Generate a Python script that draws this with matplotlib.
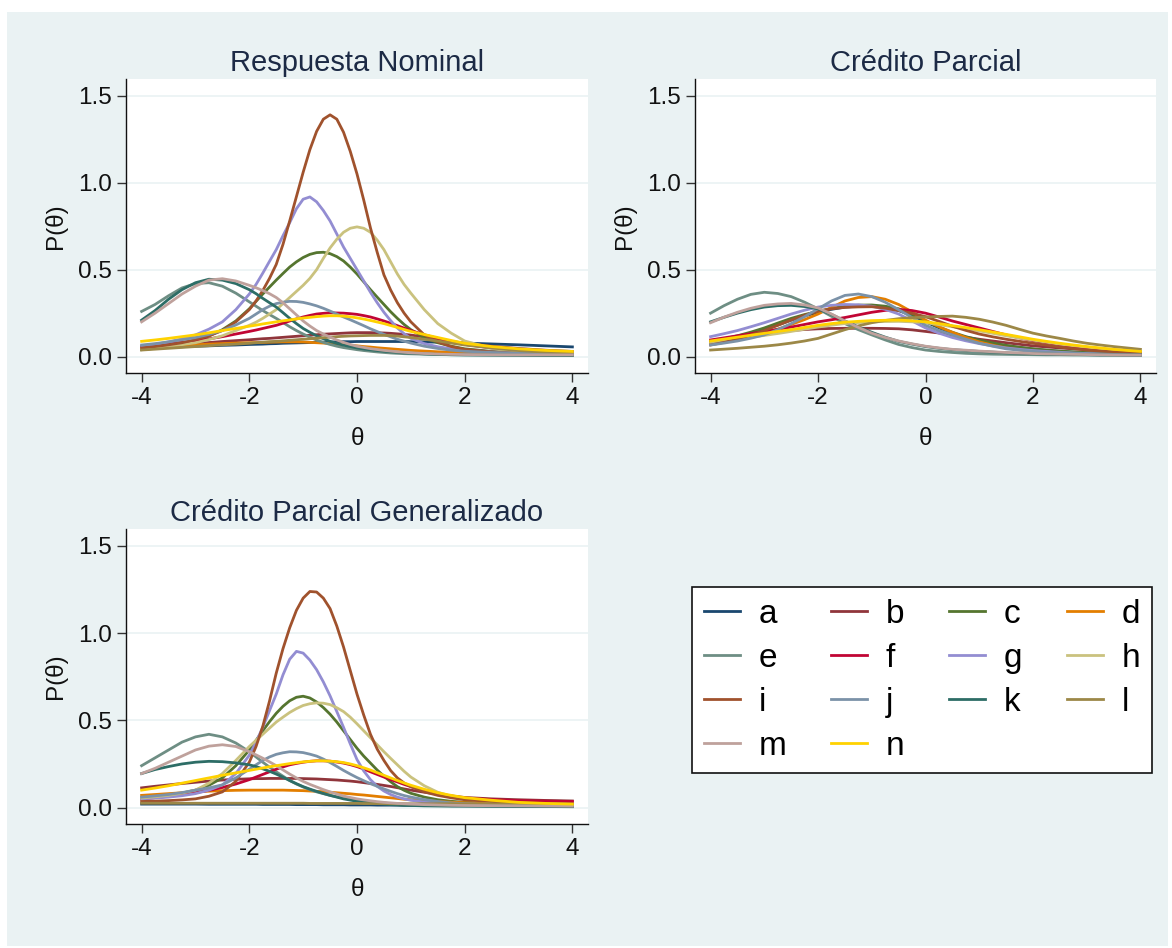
import numpy as np
import matplotlib.pyplot as plt
from matplotlib.patches import Rectangle
from matplotlib.lines import Line2D

plt.rcParams['font.family'] = ['Liberation Sans', 'DejaVu Sans']
plt.rcParams['axes.unicode_minus'] = False

W, H = 1172, 948
fondo = '#eaf2f3'

# valores de theta donde se leyeron las curvas (paneles 1 y 3 mas finos en el centro)
theta_fino = [-4, -3.75, -3.5, -3.25, -3, -2.75, -2.5, -2.25, -2,
              -1.875, -1.75, -1.625, -1.5, -1.375, -1.25, -1.125, -1, -0.875, -0.75, -0.625,
              -0.5, -0.375, -0.25, -0.125, 0,
              0.125, 0.25, 0.375, 0.5, 0.625, 0.75, 0.875, 1,
              1.25, 1.5, 1.75, 2, 2.5, 3, 3.5, 4]
theta_medio = [-4, -3.75, -3.5, -3.25, -3, -2.75, -2.5, -2.25, -2, -1.75, -1.5, -1.25, -1, -0.75, -0.5,
               -0.25, 0, 0.25, 0.5, 0.75, 1, 1.25, 1.5, 1.75, 2, 2.25, 2.5, 2.75, 3, 3.25, 3.5, 3.75, 4]

items = ['a', 'b', 'c', 'd', 'e', 'f', 'g', 'h', 'i', 'j', 'k', 'l', 'm', 'n']
colores = ['#1a476f', '#90353b', '#55752f', '#e37e00', '#6e8e84', '#c10534', '#938dd2',
           '#cac27e', '#a0522d', '#7b92a8', '#2d6d66', '#9c8847', '#bfa19c', '#ffd200']

# Respuesta Nominal (theta_fino)
nominal = {
    'a': [.050, .052, .055, .057, .060, .062, .065, .067, .070,
          .071, .072, .074, .075, .077, .078, .079, .080, .081, .082, .083, .084, .085, .086, .086, .087,
          .087, .087, .087, .087, .087, .087, .087, .086,
          .085, .083, .081, .078, .073, .068, .062, .056],
    'b': [.054, .059, .065, .070, .076, .081, .087, .092, .097,
          .100, .103, .105, .108, .111, .114, .117, .120, .123, .126, .129, .131, .133, .135, .137, .138,
          .138, .138, .137, .136, .134, .131, .128, .124,
          .113, .100, .088, .077, .060, .047, .037, .030],
    'c': [.040, .048, .058, .072, .090, .118, .155, .205, .275,
          .318, .360, .400, .440, .478, .515, .545, .570, .588, .598, .600, .592, .575, .550, .515, .475,
          .430, .385, .342, .300, .258, .220, .185, .155,
          .110, .080, .060, .045, .030, .020, .015, .012],
    'd': [.048, .053, .058, .063, .068, .072, .075, .078, .080,
          .081, .082, .083, .084, .085, .085, .085, .084, .082, .080, .078, .075, .072, .068, .065, .062,
          .058, .055, .051, .048, .045, .042, .039, .036,
          .032, .028, .025, .022, .019, .016, .014, .012],
    'e': [.260, .300, .350, .395, .420, .425, .405, .365, .315,
          .290, .265, .242, .220, .196, .172, .150, .130, .112, .095, .082, .070, .060, .052, .046, .040,
          .035, .031, .027, .024, .021, .019, .017, .016,
          .014, .012, .011, .010, .009, .008, .007, .007],
    'f': [.060, .067, .075, .082, .090, .102, .115, .130, .145,
          .153, .162, .171, .180, .192, .205, .217, .228, .237, .245, .249, .252, .251, .250, .247, .243,
          .236, .228, .217, .205, .192, .178, .164, .150,
          .126, .105, .086, .070, .050, .035, .026, .020],
    'g': [.060, .070, .085, .102, .125, .158, .200, .270, .360,
          .415, .480, .548, .615, .695, .770, .850, .905, .918, .890, .840, .780, .705, .630, .565, .500,
          .435, .370, .310, .255, .207, .165, .132, .105,
          .075, .057, .045, .037, .027, .021, .017, .015],
    'h': [.045, .052, .060, .069, .080, .098, .120, .150, .180,
          .198, .220, .245, .270, .305, .340, .375, .410, .450, .500, .565, .625, .675, .715, .738, .746,
          .738, .715, .670, .615, .545, .475, .415, .365,
          .270, .190, .135, .090, .048, .030, .022, .018],
    'i': [.050, .058, .068, .080, .098, .120, .150, .200, .270,
          .320, .380, .450, .530, .645, .780, .920, 1.060, 1.190, 1.295, 1.365, 1.390, 1.365, 1.290, 1.180, 1.050,
          .900, .740, .600, .470, .383, .310, .250, .200,
          .125, .085, .058, .042, .027, .019, .014, .010],
    'j': [.067, .075, .085, .097, .110, .128, .150, .182, .220,
          .245, .270, .290, .305, .313, .318, .317, .312, .303, .292, .278, .262, .245, .228, .212, .195,
          .178, .160, .144, .128, .114, .100, .089, .078,
          .060, .047, .037, .031, .024, .020, .017, .015],
    'k': [.210, .265, .330, .385, .425, .445, .440, .420, .385,
          .362, .335, .310, .285, .253, .220, .190, .162, .140, .120, .103, .088, .076, .066, .058, .050,
          .044, .039, .035, .031, .028, .025, .022, .020,
          .016, .013, .011, .010, .009, .008, .007, .007],
    'l': [.038, .043, .048, .053, .058, .063, .068, .072, .077,
          .080, .083, .086, .088, .091, .094, .097, .100, .103, .106, .109, .112, .115, .117, .119, .120,
          .121, .122, .122, .122, .121, .118, .114, .110,
          .100, .090, .078, .067, .050, .035, .026, .020],
    'm': [.200, .250, .305, .360, .405, .440, .448, .435, .410,
          .396, .380, .362, .340, .310, .275, .240, .205, .176, .150, .130, .112, .096, .082, .070, .060,
          .053, .046, .041, .036, .032, .028, .025, .022,
          .018, .015, .013, .012, .011, .010, .010, .010],
    'n': [.088, .096, .105, .115, .125, .137, .150, .162, .175,
          .181, .188, .194, .200, .206, .211, .217, .222, .226, .230, .233, .235, .235, .233, .229, .223,
          .216, .208, .199, .190, .179, .168, .156, .145,
          .127, .110, .093, .077, .058, .045, .036, .030],
}

# Credito Parcial (theta_medio)
parcial = {
    'a': [.080, .094, .110, .131, .155, .182, .210, .234, .255, .272, .285, .290, .290, .281, .265, .236, .200,
          .166, .135, .110, .090, .075, .062, .052, .043, .036, .030, .026, .022, .019, .016, .014, .012],
    'b': [.090, .100, .110, .120, .130, .141, .150, .156, .160, .162, .163, .163, .163, .162, .160, .154, .145,
          .136, .125, .112, .100, .090, .080, .071, .062, .056, .050, .045, .040, .036, .032, .028, .025],
    'c': [.086, .102, .120, .141, .165, .193, .220, .242, .260, .277, .290, .296, .297, .290, .275, .243, .205,
          .170, .140, .115, .095, .079, .065, .054, .045, .038, .032, .027, .023, .020, .017, .015, .013],
    'd': [.077, .088, .100, .116, .135, .158, .185, .213, .245, .283, .320, .340, .345, .330, .300, .257, .210,
          .172, .140, .110, .085, .066, .050, .039, .030, .024, .020, .017, .014, .012, .011, .010, .009],
    'e': [.250, .293, .330, .358, .370, .363, .345, .313, .275, .232, .190, .155, .125, .096, .070, .052, .038,
          .030, .024, .019, .016, .014, .013, .012, .011, .010, .010, .009, .009, .008, .008, .008, .008],
    'f': [.096, .108, .120, .132, .145, .157, .170, .185, .200, .212, .225, .240, .255, .266, .272, .265, .250,
          .228, .205, .185, .165, .145, .125, .108, .092, .080, .068, .058, .050, .044, .038, .034, .030],
    'g': [.115, .132, .150, .172, .195, .220, .245, .267, .285, .295, .300, .298, .290, .272, .245, .205, .165,
          .135, .110, .091, .075, .062, .050, .042, .035, .030, .025, .021, .018, .015, .013, .011, .010],
    'h': [.080, .090, .100, .111, .122, .133, .145, .158, .170, .181, .190, .196, .200, .202, .203, .200, .195,
          .184, .172, .160, .148, .134, .120, .107, .095, .083, .072, .063, .055, .047, .040, .035, .030],
    'i': [.067, .082, .100, .124, .150, .180, .210, .238, .262, .275, .283, .286, .287, .279, .265, .249, .230,
          .203, .175, .151, .130, .114, .100, .088, .077, .066, .055, .046, .038, .032, .027, .023, .020],
    'j': [.067, .078, .090, .106, .125, .155, .190, .230, .275, .320, .352, .360, .345, .313, .270, .225, .180,
          .150, .125, .100, .077, .060, .045, .037, .030, .026, .022, .019, .017, .015, .013, .011, .010],
    'k': [.200, .226, .250, .270, .285, .293, .295, .288, .275, .243, .205, .171, .140, .112, .088, .072, .058,
          .048, .040, .035, .030, .026, .022, .019, .017, .015, .013, .012, .011, .010, .010, .009, .009],
    'l': [.038, .043, .048, .054, .060, .068, .078, .090, .105, .130, .155, .177, .195, .208, .218, .224, .228,
          .231, .233, .226, .215, .199, .180, .157, .135, .119, .105, .090, .077, .067, .058, .050, .042],
    'm': [.195, .227, .255, .278, .295, .303, .306, .297, .280, .245, .205, .168, .135, .110, .090, .074, .060,
          .050, .042, .037, .032, .028, .024, .021, .018, .016, .014, .013, .012, .011, .010, .009, .009],
    'n': [.090, .101, .112, .123, .134, .145, .155, .168, .180, .190, .198, .203, .207, .209, .210, .206, .200,
          .190, .178, .167, .155, .142, .128, .114, .100, .088, .077, .067, .058, .050, .042, .036, .030],
}

# Credito Parcial Generalizado (theta_fino)
generalizado = {
    'a': [.020, .020, .020, .020, .020, .019, .019, .019, .019,
          .019, .018, .018, .018, .018, .018, .017, .017, .017, .017, .016, .016, .016, .016, .015, .015,
          .015, .015, .014, .014, .014, .014, .013, .013,
          .013, .012, .012, .012, .011, .011, .010, .010],
    'b': [.113, .122, .130, .138, .145, .152, .158, .162, .165,
          .166, .166, .167, .167, .167, .167, .167, .166, .165, .164, .162, .160, .158, .155, .152, .148,
          .143, .138, .133, .127, .121, .114, .107, .100,
          .088, .077, .067, .058, .050, .045, .041, .038],
    'c': [.055, .062, .070, .083, .100, .128, .170, .240, .330,
          .385, .440, .492, .540, .580, .612, .632, .638, .628, .605, .573, .535, .490, .440, .390, .340,
          .295, .255, .215, .180, .148, .120, .099, .082,
          .060, .045, .036, .030, .024, .020, .017, .015],
    'd': [.070, .075, .080, .085, .090, .094, .097, .099, .100,
          .100, .100, .100, .100, .100, .099, .098, .097, .095, .093, .091, .088, .085, .082, .079, .075,
          .072, .068, .064, .060, .056, .052, .048, .045,
          .040, .035, .031, .028, .025, .022, .020, .018],
    'e': [.240, .285, .330, .375, .405, .420, .405, .370, .320,
          .290, .260, .232, .205, .180, .155, .135, .118, .103, .090, .080, .070, .062, .055, .048, .042,
          .037, .033, .029, .026, .023, .021, .019, .018,
          .015, .013, .011, .010, .009, .008, .007, .006],
    'f': [.050, .057, .065, .075, .085, .099, .115, .135, .160,
          .175, .190, .205, .220, .233, .245, .253, .260, .265, .268, .268, .266, .261, .255, .246, .235,
          .221, .205, .190, .175, .161, .147, .133, .120,
          .098, .080, .066, .055, .046, .040, .037, .035],
    'g': [.050, .055, .060, .068, .080, .100, .130, .195, .300,
          .375, .460, .555, .650, .760, .850, .895, .885, .845, .790, .720, .640, .550, .460, .365, .275,
          .210, .160, .122, .095, .075, .060, .050, .042,
          .032, .026, .022, .020, .017, .015, .012, .010],
    'h': [.055, .062, .070, .083, .100, .140, .195, .270, .350,
          .385, .420, .455, .490, .518, .545, .567, .585, .595, .600, .598, .590, .572, .550, .518, .480,
          .440, .400, .360, .320, .282, .245, .208, .175,
          .125, .088, .065, .050, .033, .025, .019, .015],
    'i': [.035, .037, .040, .044, .050, .065, .090, .150, .260,
          .350, .465, .610, .770, .910, 1.030, 1.130, 1.200, 1.238, 1.235, 1.200, 1.140, 1.040, .920, .785, .650,
          .530, .420, .335, .270, .212, .170, .141, .120,
          .090, .070, .056, .045, .035, .028, .023, .020],
    'j': [.060, .067, .075, .086, .100, .113, .130, .170, .220,
          .245, .270, .290, .305, .314, .320, .319, .315, .306, .295, .278, .258, .236, .213, .192, .172,
          .154, .137, .122, .107, .093, .080, .069, .060,
          .046, .035, .027, .022, .017, .013, .011, .010],
    'k': [.195, .218, .235, .250, .260, .265, .263, .256, .245,
          .235, .222, .208, .192, .174, .155, .137, .120, .106, .093, .081, .070, .060, .050, .043, .036,
          .031, .027, .023, .020, .017, .015, .013, .012,
          .010, .009, .008, .008, .007, .006, .006, .005],
    'l': [.025, .025, .025, .025, .025, .025, .025, .025, .025,
          .025, .025, .025, .025, .025, .025, .025, .025, .024, .024, .024, .024, .024, .024, .024, .024,
          .023, .023, .023, .023, .023, .022, .022, .022,
          .022, .022, .022, .021, .021, .020, .020, .020],
    'm': [.195, .225, .260, .295, .330, .352, .360, .350, .320,
          .302, .283, .262, .240, .216, .192, .170, .150, .133, .118, .103, .090, .078, .066, .058, .050,
          .044, .039, .034, .030, .027, .024, .022, .020,
          .017, .015, .013, .012, .011, .010, .009, .008],
    'n': [.100, .112, .125, .140, .155, .170, .185, .199, .213,
          .220, .227, .234, .240, .246, .252, .257, .262, .265, .268, .268, .266, .263, .258, .250, .240,
          .228, .215, .200, .185, .170, .155, .141, .128,
          .105, .085, .070, .057, .042, .030, .024, .020],
}


def panel(fig, rect, x, datos, titulo):
    ax = fig.add_axes(rect)
    ax.set_facecolor('white')
    for nombre, color in zip(items, colores):
        ax.plot(x, datos[nombre], color=color, lw=2.0, solid_joinstyle='round', zorder=3)
    ax.set_xlim(-4.29, 4.29)
    ax.set_ylim(-0.094, 1.596)
    ax.set_xticks([-4, -2, 0, 2, 4])
    ax.set_yticks([0, 0.5, 1.0, 1.5])
    ax.set_yticklabels(['0.0', '0.5', '1.0', '1.5'])
    ax.grid(axis='y', color=fondo, lw=1.2, zorder=0)
    ax.grid(axis='x', visible=False)
    ax.set_axisbelow(True)
    for s in ['top', 'right']:
        ax.spines[s].set_visible(False)
    for s in ['left', 'bottom']:
        ax.spines[s].set_color('#111111')
        ax.spines[s].set_linewidth(1.0)
    ax.tick_params(direction='out', length=6.5, width=1.0, color='#333333',
                   labelsize=17.5, labelcolor='#111111', pad=3.5)
    ax.set_xlabel('θ', fontsize=17.5, labelpad=14, color='#111111')
    ax.set_ylabel('P(θ)', fontsize=17.5, labelpad=8, color='#111111')
    ax.set_title(titulo, fontsize=21, color='#1c2a45', pad=6)
    return ax


fig = plt.figure(figsize=(W / 100, H / 100), dpi=100)
fig.patch.set_facecolor('white')
fig.patches.append(Rectangle((7 / W, 2 / H), (1168 - 7) / W, (936 - 2) / H,
                             transform=fig.transFigure, facecolor=fondo,
                             edgecolor='none', zorder=-10))

panel(fig, [126 / W, (H - 373) / H, 462 / W, 294 / H], theta_fino, nominal, 'Respuesta Nominal')
panel(fig, [695 / W, (H - 373) / H, 461 / W, 294 / H], theta_medio, parcial, 'Crédito Parcial')
panel(fig, [126 / W, (H - 824) / H, 462 / W, 295 / H], theta_fino, generalizado,
      'Crédito Parcial Generalizado')

# leyenda por filas: a b c d / e f g h / ...
orden = [0, 4, 8, 12, 1, 5, 9, 13, 2, 6, 10, 3, 7, 11]
handles = [Line2D([0], [0], color=colores[k], lw=2.0) for k in orden]
etiquetas = [items[k] for k in orden]
leg = fig.legend(handles, etiquetas, ncol=4, loc='upper left',
                 bbox_to_anchor=(692 / W, (H - 587) / H), borderaxespad=0,
                 fontsize=24, frameon=True, fancybox=False, framealpha=1,
                 edgecolor='#111111', handlelength=1.08, handletextpad=0.57,
                 columnspacing=1.33, labelspacing=0.39, borderpad=0.35)
leg.get_frame().set_linewidth(1.2)

fig.savefig('out.png', dpi=100, facecolor=fig.get_facecolor())
